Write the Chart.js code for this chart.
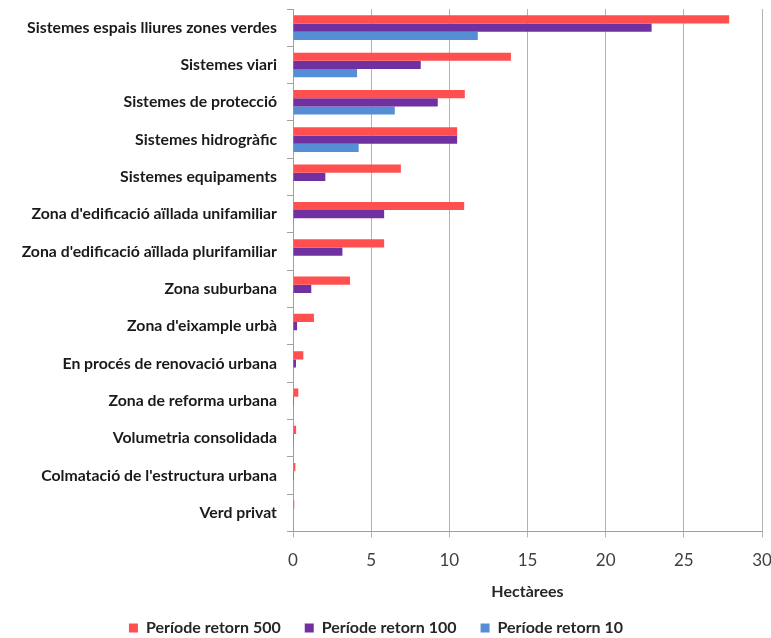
<!DOCTYPE html>
<html>
<head>
<meta charset="utf-8">
<script src="https://cdn.jsdelivr.net/npm/chart.js@4/dist/chart.umd.min.js"></script>
<style>
  html, body { margin: 0; padding: 0; background: #fff; }
  #wrap { width: 771px; height: 638px; }
</style>
</head>
<body>
<div id="wrap"><canvas id="c" width="771" height="638"></canvas></div>
<script>
const categories = [
  "Sistemes espais lliures zones verdes",
  "Sistemes viari",
  "Sistemes de protecció",
  "Sistemes hidrogràfic",
  "Sistemes equipaments",
  "Zona d'edificació aïllada unifamiliar",
  "Zona d'edificació aïllada plurifamiliar",
  "Zona suburbana",
  "Zona d'eixample urbà",
  "En procés de renovació urbana",
  "Zona de reforma urbana",
  "Volumetria consolidada",
  "Colmatació de l'estructura urbana",
  "Verd privat"
];
const seriesNames = ["Període retorn 500", "Període retorn 100", "Període retorn 10"];
const retorn500 = [27.9, 13.94, 10.99, 10.5, 6.9, 10.95, 5.83, 3.65, 1.34, 0.66, 0.34, 0.2, 0.15, 0.08];
const retorn100 = [22.94, 8.17, 9.26, 10.5, 2.07, 5.83, 3.16, 1.17, 0.26, 0.19, 0.06, 0.05, 0.06, 0.0];
const retorn10  = [11.82, 4.10, 6.51, 4.2, 0.03, 0.05, 0.0, 0.0, 0.0, 0.02, 0.05, 0.05, 0.02, 0.0];
const xTicks = [0, 5, 10, 15, 20, 25, 30];
const axisTitle = "Hectàrees";

const colors = ["#FF4F4F", "#7030A0", "#558ED5"];

const shiftLegend = {
  id: 'shiftLegend',
  afterLayout(chart) {
    const lg = chart.legend;
    if (lg) { lg.left -= 5; lg.right -= 5; }
  }
};

new Chart(document.getElementById('c'), {
  type: 'bar',
  data: {
    labels: categories,
    datasets: [
      { label: seriesNames[0], data: retorn500, backgroundColor: colors[0] },
      { label: seriesNames[1], data: retorn100, backgroundColor: colors[1] },
      { label: seriesNames[2], data: retorn10, backgroundColor: colors[2] }
    ]
  },
  options: {
    indexAxis: 'y',
    responsive: false,
    animation: false,
    devicePixelRatio: 1,
    layout: { padding: { top: 9, left: 0, right: 9, bottom: -8 } },
    datasets: { bar: { categoryPercentage: 0.66, barPercentage: 1.0 } },
    scales: {
      x: {
        min: 0, max: 30,
        afterBuildTicks(scale) { scale.ticks = xTicks.map(v => ({ value: v })); },
        afterFit(scale) { scale.paddingRight = 0; },
        grid: { color: '#b3b3b3', lineWidth: 1, tickLength: 6, drawTicks: true },
        border: { color: '#a0a0a0' },
        ticks: { color: '#404040', font: { family: 'Lato', size: 17 }, padding: 13 },
        title: { display: true, text: axisTitle, color: '#262626', font: { family: 'Lato', size: 16, weight: 'bold' }, padding: { top: -2, bottom: -5 } }
      },
      y: {
        afterFit(scale) { scale.width = 293; scale.paddingTop = 0; scale.paddingBottom = 0; },
        grid: { drawOnChartArea: false, color: '#a0a0a0', tickLength: 6, offset: true },
        border: { color: '#a0a0a0' },
        ticks: { color: '#1a1a1a', font: { family: 'Lato', size: 15.8, weight: 'bold' }, padding: 10 }
      }
    },
    plugins: {
      legend: {
        position: 'bottom',
        labels: {
          boxWidth: 9, boxHeight: 9, padding: 24,
          color: '#262626', font: { family: 'Lato', size: 16, weight: 'bold' }
        }
      },
      tooltip: { enabled: false }
    }
  },
  plugins: [shiftLegend]
});
</script>
</body>
</html>
